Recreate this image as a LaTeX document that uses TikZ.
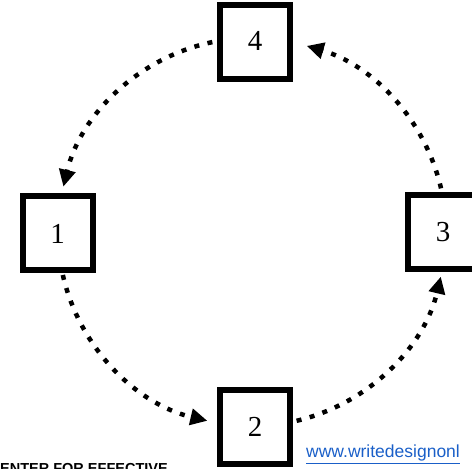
\documentclass[tikz,border=0pt]{standalone}
\usepackage{fontspec}
\setmainfont{Liberation Serif}
\newfontfamily\urlfont{Liberation Sans}
\newfontfamily\labfont{Liberation Sans}
\usetikzlibrary{arrows.meta,calc}
\definecolor{linkblue}{HTML}{1A5FC8}
\begin{document}
\begin{tikzpicture}[x=1pt,y=1pt,
  numbox/.style={draw=black,line width=6pt,minimum width=70pt,minimum height=74pt,
    inner sep=0pt,font=\fontsize{29}{29}\selectfont,fill=white},
  flow/.style={line width=4.5pt,dash pattern=on 5pt off 8.5pt,
    -{Triangle[length=17pt,width=16pt]}}]
\useasboundingbox (0,0) rectangle (472,469);
\clip (0,0) rectangle (472,469);
\coordinate (c) at (252,237);
\node[numbox] (n4) at (255,427) {\raisebox{3pt}{4}};
\node[numbox] (n1) at (57.5,235.5) {1};
\node[numbox] (n3) at (443,236.5) {3};
\node[numbox] (n2) at (255,41.5) {\raisebox{2pt}{2}};
\coordinate (a41) at ($(c)+(101.8:194)$);
\coordinate (a12) at ($(c)+(192.8:194)$);
\coordinate (a23) at ($(c)+(283.3:194)$);
\coordinate (a34) at ($(c)+(13:194)$);
\draw[flow] (a41) arc[start angle=101.8,end angle=166.5,radius=194];
\draw[flow] (a12) arc[start angle=192.8,end angle=256.7,radius=194];
\draw[flow] (a23) arc[start angle=283.3,end angle=346.7,radius=194];
\draw[flow] (a34) arc[start angle=13,end angle=73.6,radius=194];
\node[anchor=base west,inner sep=0pt,text=linkblue,font=\urlfont\fontsize{17.5}{17.5}\selectfont] (url) at (306,11) {\underline{www.writedesignonl}};
\node[anchor=base west,inner sep=0pt,font=\labfont\bfseries\fontsize{14.5}{14.5}\selectfont] (cef) at (0,-5) {ENTER FOR EFFECTIVE};
\end{tikzpicture}
\end{document}
